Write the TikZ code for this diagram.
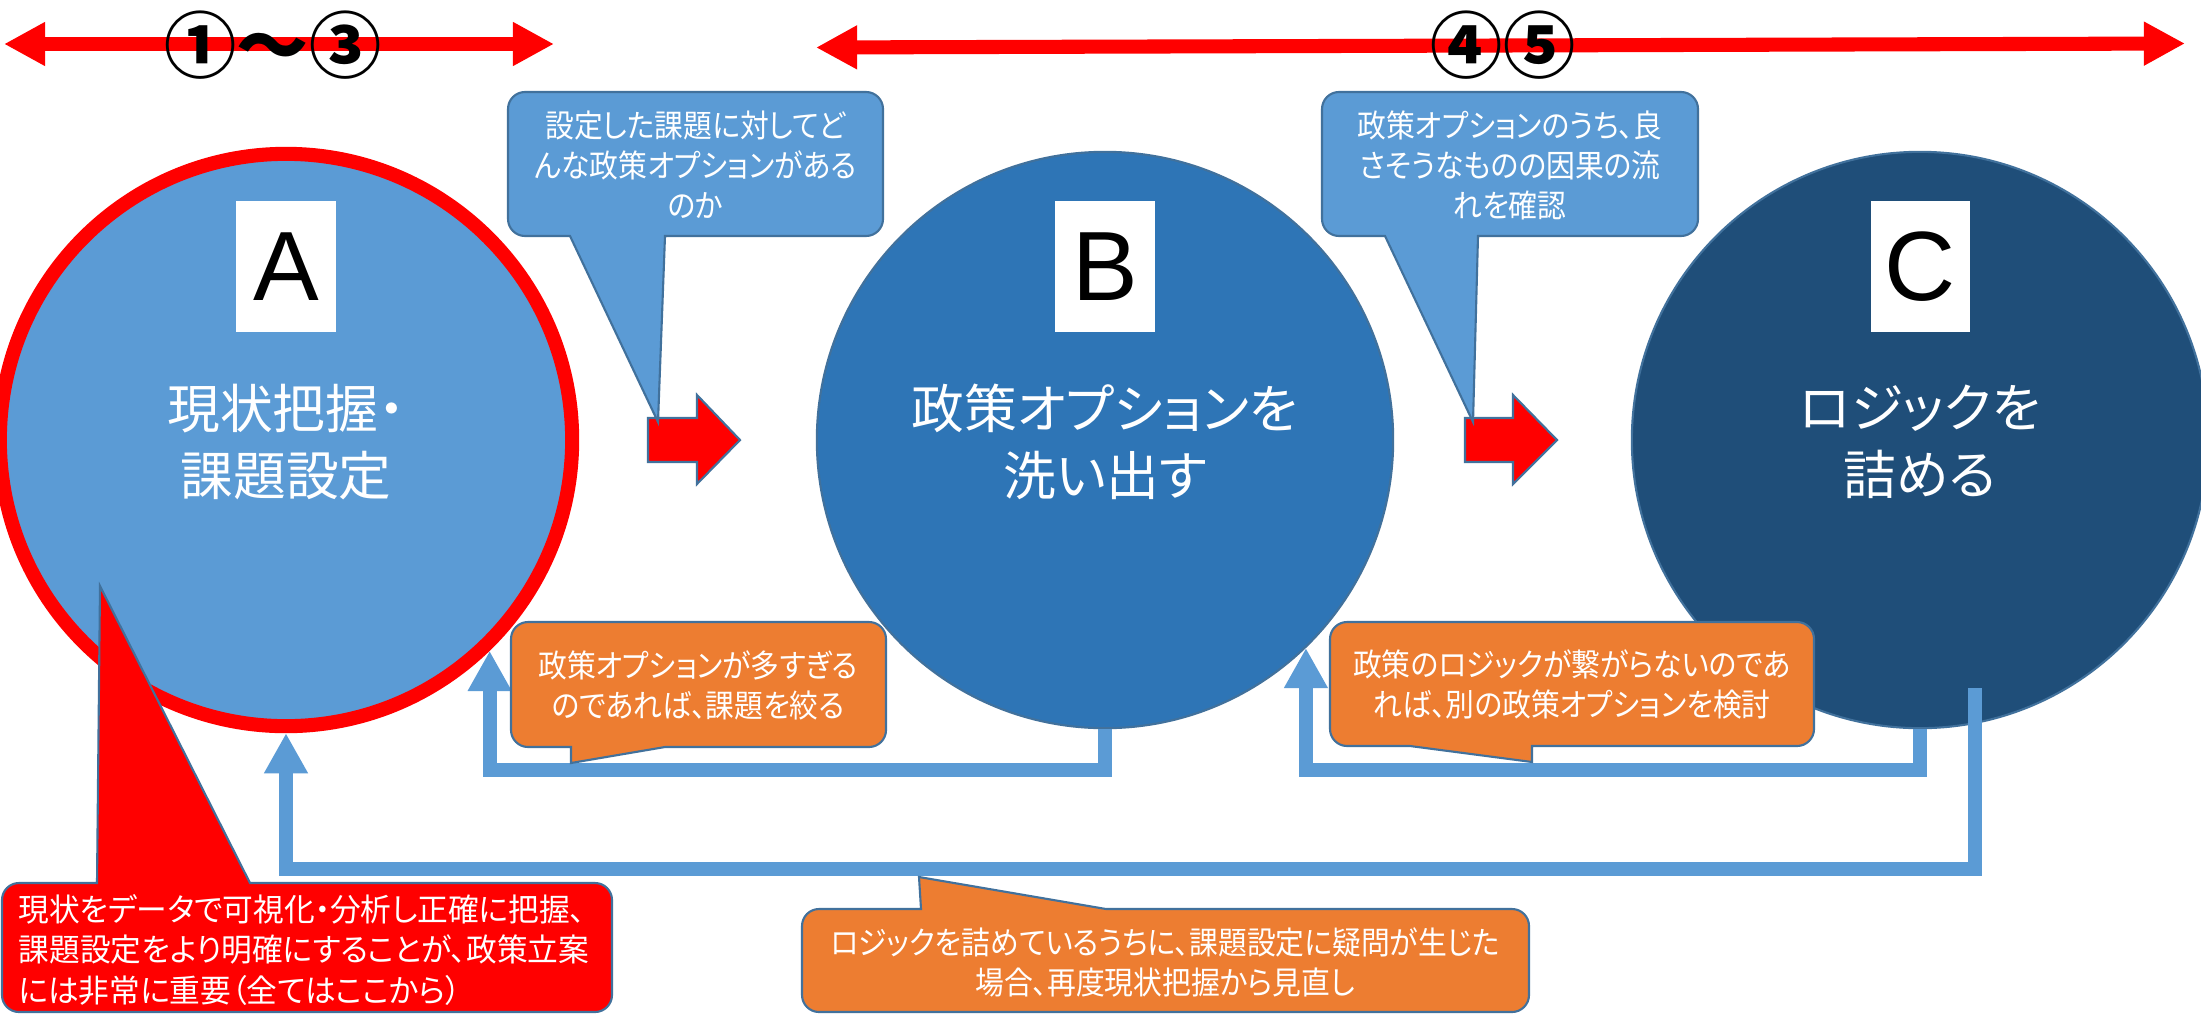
\documentclass[tikz,border=0pt]{standalone}
\usepackage{fontspec}
\newfontfamily\jp[RawFeature=+palt]{Noto Sans CJK JP}
\newfontfamily\jpc[RawFeature=+palt, FakeStretch=0.91]{Noto Sans CJK JP}
\newfontfamily\jpr[RawFeature=+palt, FakeStretch=0.97]{Noto Sans CJK JP}
\newfontfamily\jpnum{Noto Sans CJK JP}
\newfontfamily\lat{Liberation Sans}
\usetikzlibrary{arrows.meta,calc}
\definecolor{lblue}{HTML}{5B9BD5}
\definecolor{mblue}{HTML}{2E75B6}
\definecolor{dblue}{HTML}{1F4E79}
\definecolor{bord}{HTML}{41719C}
\definecolor{orng}{HTML}{ED7D31}
\definecolor{pred}{HTML}{FF0000}
\begin{document}
\begin{tikzpicture}[x=0.01cm,y=-0.01cm,
  stage/.style={circle, minimum size=5.76cm, inner sep=0pt, draw=bord, line width=0.6pt},
  letterbox/.style={fill=white, minimum width=0.99cm, minimum height=1.31cm, inner sep=0pt, font=\lat\fontsize{28}{30}\selectfont},
  stagetext/.style={text=white, align=center, inner sep=0pt, font=\jp\fontsize{15}{19}\selectfont},
  calltext/.style={text=white, align=center, inner sep=0pt, font=\jpc\fontsize{9}{11.4}\selectfont},
  bluecall/.style={fill=lblue, draw=bord, line width=0.6pt},
  orangecall/.style={fill=orng, draw=bord, line width=0.6pt},
  redcall/.style={fill=pred, draw=bord, line width=0.6pt},
  blockarrow/.style={fill=pred, draw=bord, line width=0.6pt},
  feedback/.style={draw=lblue, line width=4pt, line join=miter, -{Triangle[width=11.7pt,length=11.4pt]}},
  rangearrow/.style={draw=pred, line width=4pt, {Triangle[width=11.7pt,length=11.7pt]}-{Triangle[width=11.7pt,length=11.7pt]}},
  numtext/.style={font=\jpnum\bfseries\fontsize{20.5}{22}\selectfont, text=black, inner sep=0pt},
]
\useasboundingbox (0,0) rectangle (2201,1018);
\fill[white] (0,0) rectangle (2201,1018);
\clip (0,0) rectangle (2201,1018);

% stages
\node[stage, fill=lblue, draw=pred, line width=4pt, minimum size=5.72cm] (A) at (286,440) {};
\node[stage, fill=mblue] (B) at (1105,440) {};
\node[stage, fill=dblue] (C) at (1920,440) {};

\node[letterbox] (Al) at (286,266.5) {A};
\node[letterbox] (Bl) at (1105,266.5) {B};
\node[letterbox] (Cl) at (1920,266.5) {C};

\node[stagetext] (At) at (286,442) {現状把握・\\課題設定};
\node[stagetext] (Bt) at (1105,442) {政策オプションを\\洗い出す};
\node[stagetext] (Ct) at (1920,442) {ロジックを\\詰める};

% red block arrows
\draw[blockarrow] (648,418) -- (697,418) -- (697,395) -- (740,440) -- (697,484) -- (697,462) -- (648,462) -- cycle;
\draw[blockarrow] (1465,418) -- (1513,418) -- (1513,395) -- (1557,440) -- (1513,484) -- (1513,462) -- (1465,462) -- cycle;

% top callouts
\draw[bluecall] (658,422) [sharp corners] -- (570,236) -- (545,236) [rounded corners=0.17cm] -- (508,236) -- (508,92) -- (883,92) -- (883,236) -- (720,236) [sharp corners] -- (665,236) -- cycle;
\node[calltext] (n1) at (695.5,165) {設定した課題に対してど\\んな政策オプションがある\\のか};

\draw[bluecall] (1473,422) [sharp corners] -- (1385,236) -- (1360,236) [rounded corners=0.17cm] -- (1322,236) -- (1322,92) -- (1698,92) -- (1698,236) -- (1530,236) [sharp corners] -- (1478,236) -- cycle;
\node[calltext] (n2) at (1510,165) {政策オプションのうち、良\\さそうなものの因果の流\\れを確認};

% feedback connectors
\draw[feedback] (B.south) -- ++(0,41) -| (A.-46);
\draw[feedback] (C.south) -- ++(0,41) -| (B.-46);
\coordinate (Cfoot) at (1975,688);
\draw[feedback] (Cfoot) -- (1975,869) -| (A.south);

% orange callouts
\draw[orangecall] (571,763) [sharp corners] -- (665,747) -- (700,747) [rounded corners=0.17cm] -- (886,747) -- (886,622) -- (511,622) -- (511,747) -- (545,747) [sharp corners] -- (571,747) -- cycle;
\node[calltext] (n3) at (698,685) {政策オプションが多すぎる\\のであれば、課題を絞る};

\draw[orangecall] (1532,762) [sharp corners] -- (1410,746) -- (1380,746) [rounded corners=0.17cm] -- (1330,746) -- (1330,622) -- (1814,622) -- (1814,746) -- (1570,746) [sharp corners] -- (1532,746) -- cycle;
\node[calltext] (n4) at (1572,684) {政策のロジックが繋がらないのであ\\れば、別の政策オプションを検討};

\draw[orangecall] (919,877) [sharp corners] -- (1106,909) -- (1150,909) [rounded corners=0.17cm] -- (1529,909) -- (1529,1012) -- (802,1012) -- (802,909) -- (860,909) [sharp corners] -- (921,909) -- cycle;
\node[calltext] (n6) at (1165,962) {ロジックを詰めているうちに、課題設定に疑問が生じた\\場合、再度現状把握から見直し};

% red callout
\draw[redcall] (100,586) [sharp corners] -- (250,883) -- (300,883) [rounded corners=0.17cm] -- (612,883) -- (612,1012) -- (2,1012) -- (2,883) -- (60,883) [sharp corners] -- (97,883) -- cycle;
\node[calltext, align=left, anchor=west, font=\jpr\fontsize{9}{11.4}\selectfont] (n5) at (18,950) {現状をデータで可視化・分析し正確に把握、\\課題設定をより明確にすることが、政策立案\\には非常に重要（全てはここから）};

% range arrows
\coordinate (r1a) at (4,44);
\coordinate (r1b) at (554,44);
\draw[rangearrow] (r1a) -- (r1b);
\coordinate (r2a) at (816,47.5);
\coordinate (r2b) at (2185,43.5);
\draw[rangearrow] (r2a) -- (r2b);
\node[numtext] (num1) at (273,45) {①～③};
\node[numtext] (num2) at (1503,45) {④⑤};
\end{tikzpicture}
\end{document}
